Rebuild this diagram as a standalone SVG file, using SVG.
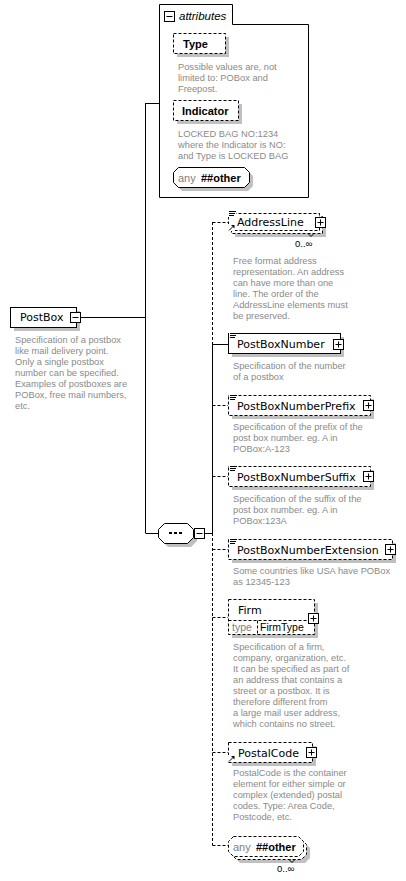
<svg xmlns="http://www.w3.org/2000/svg" xmlns:xlink="http://www.w3.org/1999/xlink" width="406" height="881" viewBox="0 0 406 881">
<style>
.bg{fill:#fff}
.box{fill:#fff;stroke:#000;stroke-width:1}
.dash{stroke-dasharray:3,2}
.shadow{fill:#c0c0c0;stroke:none}
.ln{fill:none;stroke:#000;stroke-width:1}
.name{font-family:"DejaVu Sans",sans-serif;font-size:11px;fill:#000}
.bold{font-family:"Liberation Sans",Arial,sans-serif;font-size:11px;font-weight:bold;fill:#000}
.gray{font-family:"Liberation Sans",Arial,sans-serif;font-size:11px;fill:#808080}
.desc{font-family:"Liberation Sans",Arial,sans-serif;font-size:9.3px;fill:#8a8a8a}
.occ{font-family:"Liberation Sans",Arial,sans-serif;font-size:9.5px;fill:#000}
.it{font-family:"Liberation Sans",Arial,sans-serif;font-size:11.5px;font-style:italic;fill:#000}
</style>
<defs>
<g id="plus"><rect x="0.5" y="0.5" width="10" height="10" class="box"/><path d="M2.5,5.5H8.5M5.5,2.5V8.5" class="ln"/></g>
<g id="minus"><rect x="0.5" y="0.5" width="10" height="10" class="box"/><path d="M2.5,5.5H8.5" class="ln"/></g>
<g id="doc"><rect x="0" y="-1" width="8" height="7" class="bg"/><path d="M1,0.5H8M1,2.5H7M1,4.5H6" class="ln"/></g>
<g id="ref"><rect x="0" y="0" width="7" height="7" class="bg"/><path d="M1,6.5L5,2.5" class="ln"/><path d="M6.5,1L3,1L6.5,4.5Z" fill="#000"/></g>
</defs>
<rect width="406" height="881" fill="#fff"/>

<g id="connectors">
<path class="ln" d="M81,317.5H145.5M145.5,103V533M145.5,103.5H159M145.5,533.5H158M205,533.5H212.5"/>
<path class="ln dash" d="M212.5,222V344"/>
<path class="ln" d="M212.5,344V533"/>
<path class="ln dash" d="M212.5,533V845.5"/>
<path class="ln dash" d="M212.5,222.5H228"/>
<path class="ln" d="M212.5,344.5H228"/>
<path class="ln dash" d="M212.5,405.5H228M212.5,476.5H228M212.5,549.5H228M212.5,617.5H228M212.5,752.5H228M212.5,845.5H228"/>
</g>

<g id="PostBox">
<rect x="14" y="311" width="66" height="20" class="shadow"/>
<rect x="10.5" y="307.5" width="66" height="20" class="box"/>
<text x="20" y="321" class="name">PostBox</text>
<use xlink:href="#minus" x="70" y="312"/>
<text class="desc" x="15" y="343">Specification of a postbox</text>
<text class="desc" x="15" y="354">like mail delivery point.</text>
<text class="desc" x="15" y="365">Only a single postbox</text>
<text class="desc" x="15" y="376">number can be specified.</text>
<text class="desc" x="15" y="387">Examples of postboxes are</text>
<text class="desc" x="15" y="398">POBox, free mail numbers,</text>
<text class="desc" x="15" y="409">etc.</text>
</g>

<g id="attributes">
<path d="M159.5,4.5H232.5V24.5H308.5V197.5H159.5Z" class="box"/>
<use xlink:href="#minus" x="164" y="11"/>
<text x="179" y="20" class="it">attributes</text>
<g id="Type">
<rect x="177" y="37" width="52" height="20" class="shadow"/>
<rect x="173.5" y="33.5" width="52" height="20" class="box dash"/>
<text x="183" y="48" class="bold">Type</text>
<text class="desc" x="178" y="70">Possible values are, not</text>
<text class="desc" x="178" y="81">limited to: POBox and</text>
<text class="desc" x="178" y="92">Freepost.</text>
</g>
<g id="Indicator">
<rect x="177" y="104" width="65" height="20" class="shadow"/>
<rect x="173.5" y="100.5" width="65" height="20" class="box dash"/>
<text x="182" y="115" class="bold">Indicator</text>
<text class="desc" x="178" y="137">LOCKED BAG NO:1234</text>
<text class="desc" x="178" y="148">where the Indicator is NO:</text>
<text class="desc" x="178" y="159">and Type is LOCKED BAG</text>
</g>
<g id="anyAttr">
<path d="M182,171H248L253,176V186L248,191H182L177,186V176Z" class="shadow"/>
<path d="M178.5,167.5H244.5L249.5,172.5V182.5L244.5,187.5H178.5L173.5,182.5V172.5Z" class="box"/>
<text x="178" y="182" class="gray">any</text>
<text x="201" y="182" class="bold">##other</text>
</g>
</g>

<g id="sequence">
<path d="M168,527H191L197,533V541L191,547H168L162,541V533Z" class="shadow"/>
<path d="M164.5,523.5H187.5L193.5,529.5V537.5L187.5,543.5H164.5L158.5,537.5V529.5Z" class="box"/>
<rect x="169" y="532" width="3" height="2" fill="#000"/>
<rect x="174" y="532" width="3" height="2" fill="#000"/>
<rect x="179" y="532" width="3" height="2" fill="#000"/>
<use xlink:href="#minus" x="194" y="528"/>
</g>

<g id="AddressLine">
<rect x="235" y="220" width="91" height="17" class="shadow"/>
<rect x="231.5" y="216.5" width="91" height="17" class="box dash"/>
<rect x="228.5" y="213.5" width="91" height="17" class="box dash"/>
<use xlink:href="#doc" x="228" y="211"/>
<use xlink:href="#ref" x="228" y="224"/>
<text x="237" y="226" class="name">AddressLine</text>
<use xlink:href="#plus" x="315" y="217"/>
<path d="M308,233.5L311,236.5L314,233.5" class="ln"/>
<text x="295" y="247" class="occ">0..∞</text>
<text class="desc" x="233" y="264">Free format address</text>
<text class="desc" x="233" y="275">representation. An address</text>
<text class="desc" x="233" y="286">can have more than one</text>
<text class="desc" x="233" y="297">line. The order of the</text>
<text class="desc" x="233" y="308">AddressLine elements must</text>
<text class="desc" x="233" y="319">be preserved.</text>
</g>

<g id="PostBoxNumber">
<rect x="232" y="337" width="112" height="20" class="shadow"/>
<rect x="228.5" y="333.5" width="112" height="20" class="box"/>
<use xlink:href="#doc" x="229" y="333"/>
<text x="237" y="348" class="name">PostBoxNumber</text>
<use xlink:href="#plus" x="333" y="339"/>
<text class="desc" x="233" y="369">Specification of the number</text>
<text class="desc" x="233" y="380">of a postbox</text>
</g>

<g id="PostBoxNumberPrefix">
<rect x="232" y="399" width="142" height="20" class="shadow"/>
<rect x="228.5" y="395.5" width="142" height="20" class="box dash"/>
<use xlink:href="#doc" x="229" y="395"/>
<text x="237" y="410" class="name">PostBoxNumberPrefix</text>
<use xlink:href="#plus" x="363" y="400"/>
<text class="desc" x="233" y="430">Specification of the prefix of the</text>
<text class="desc" x="233" y="441">post box number. eg. A in</text>
<text class="desc" x="233" y="452">POBox:A-123</text>
</g>

<g id="PostBoxNumberSuffix">
<rect x="232" y="470" width="142" height="20" class="shadow"/>
<rect x="228.5" y="466.5" width="142" height="20" class="box dash"/>
<use xlink:href="#doc" x="229" y="466"/>
<text x="237" y="481" class="name">PostBoxNumberSuffix</text>
<use xlink:href="#plus" x="363" y="471"/>
<text class="desc" x="233" y="502">Specification of the suffix of the</text>
<text class="desc" x="233" y="513">post box number. eg. A in</text>
<text class="desc" x="233" y="524">POBox:123A</text>
</g>

<g id="PostBoxNumberExtension">
<rect x="232" y="543" width="164" height="20" class="shadow"/>
<rect x="228.5" y="539.5" width="164" height="20" class="box dash"/>
<use xlink:href="#doc" x="229" y="539"/>
<text x="237" y="554" class="name">PostBoxNumberExtension</text>
<use xlink:href="#plus" x="385" y="544"/>
<text class="desc" x="233" y="574">Some countries like USA have POBox</text>
<text class="desc" x="233" y="585">as 12345-123</text>
</g>

<g id="Firm">
<rect x="232" y="603" width="86" height="35" class="shadow"/>
<rect x="228.5" y="599.5" width="86" height="35" class="box dash"/>
<path d="M228.5,620.5H314.5M257.5,620.5V634.5" class="ln dash"/>
<text x="238" y="614" class="name">Firm</text>
<text x="232" y="631" font-family="Liberation Sans, Arial, sans-serif" font-size="10.5" fill="#808080">type</text>
<text x="260" y="631" font-family="Liberation Sans, Arial, sans-serif" font-size="10.5" fill="#000">FirmType</text>
<use xlink:href="#plus" x="308" y="613"/>
<text class="desc" x="233" y="650">Specification of a firm,</text>
<text class="desc" x="233" y="661">company, organization, etc.</text>
<text class="desc" x="233" y="672">It can be specified as part of</text>
<text class="desc" x="233" y="683">an address that contains a</text>
<text class="desc" x="233" y="694">street or a postbox. It is</text>
<text class="desc" x="233" y="705">therefore different from</text>
<text class="desc" x="233" y="716">a large mail user address,</text>
<text class="desc" x="233" y="727">which contains no street.</text>
</g>

<g id="PostalCode">
<rect x="232" y="746" width="84" height="20" class="shadow"/>
<rect x="228.5" y="742.5" width="84" height="20" class="box dash"/>
<use xlink:href="#ref" x="228" y="755"/>
<text x="238" y="757" class="name">PostalCode</text>
<use xlink:href="#plus" x="306" y="747"/>
<text class="desc" x="233" y="776">PostalCode is the container</text>
<text class="desc" x="233" y="787">element for either simple or</text>
<text class="desc" x="233" y="798">complex (extended) postal</text>
<text class="desc" x="233" y="809">codes. Type: Area Code,</text>
<text class="desc" x="233" y="820">Postcode, etc.</text>
</g>

<g id="anyElement">
<path d="M240,843H305L310,848V858L305,863H240L235,858V848Z" class="shadow"/>
<path d="M236.5,839.5H301.5L306.5,844.5V854.5L301.5,859.5H236.5L231.5,854.5V844.5Z" class="box dash"/>
<path d="M233.5,836.5H298.5L303.5,841.5V851.5L298.5,856.5H233.5L228.5,851.5V841.5Z" class="box dash"/>
<text x="233" y="851" class="gray">any</text>
<text x="256" y="851" class="bold">##other</text>
<path d="M289,859.5L292,862.5L295,859.5" class="ln"/>
<text x="277" y="872" class="occ">0..∞</text>
</g>
</svg>
